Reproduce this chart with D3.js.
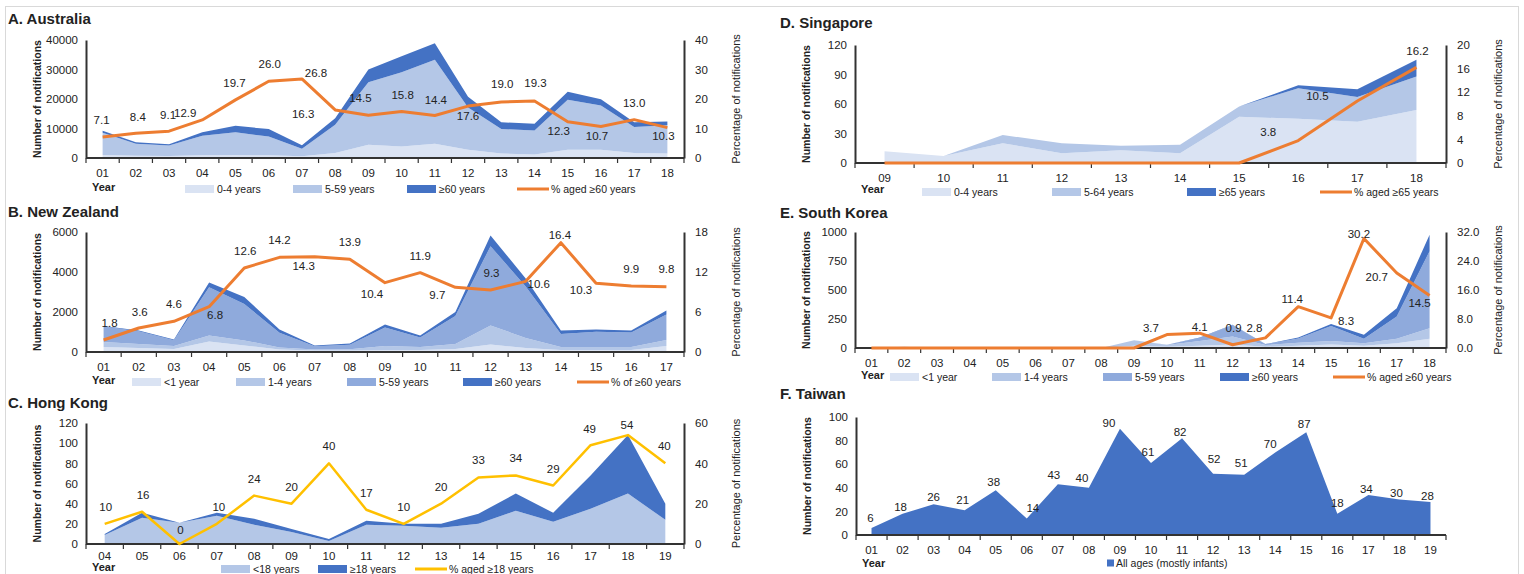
<!DOCTYPE html>
<html>
<head>
<meta charset="utf-8">
<script src="https://cdn.jsdelivr.net/npm/d3@7"></script>
<style>
  body { margin: 0; background: #fff; }
  text { font-family: "Liberation Sans", Arial, sans-serif; fill: #222; }
</style>
</head>
<body>
<div id="chart"></div>
<script>
var svgWidth = 1524;
var svgHeight = 574;

// ---------------- data ----------------
// A. Australia
var auYears = ["01","02","03","04","05","06","07","08","09","10","11","12","13","14","15","16","17","18"];
var auAge0to4 = [1000, 800, 700, 900, 1000, 900, 600, 1700, 4500, 3900, 4800, 2800, 1500, 1200, 2800, 2800, 1700, 1500];
var auAge5to59 = [7550, 4050, 3570, 6680, 7750, 6350, 2550, 9600, 21150, 25150, 28500, 14350, 8300, 8160, 16930, 14970, 8830, 9620];
var auAge60plus = [650, 450, 430, 1120, 2150, 2550, 1150, 2200, 4350, 5450, 5600, 3650, 2300, 2240, 2770, 2130, 1570, 1280];
var auPct60 = [7.1, 8.4, 9.1, 12.9, 19.7, 26.0, 26.8, 16.3, 14.5, 15.8, 14.4, 17.6, 19.0, 19.3, 12.3, 10.7, 13.0, 10.3];

// B. New Zealand
var nzYears = ["01","02","03","04","05","06","07","08","09","10","11","12","13","14","15","16","17"];
var nzUnder1 = [250, 200, 150, 530, 330, 130, 80, 80, 100, 100, 150, 370, 200, 100, 100, 100, 300];
var nzAge1to4 = [250, 200, 150, 300, 250, 100, 50, 60, 200, 150, 250, 960, 500, 150, 150, 150, 300];
var nzAge5to59 = [777, 641, 291, 2404, 1823, 731, 153, 222, 928, 481, 1406, 3958, 2581, 653, 764, 723, 1276];
var nzAge60plus = [23, 39, 29, 236, 347, 159, 47, 58, 142, 99, 194, 542, 389, 177, 116, 107, 204];
var nzPct60 = [1.8, 3.6, 4.6, 6.8, 12.6, 14.2, 14.3, 13.9, 10.4, 11.9, 9.7, 9.3, 10.6, 16.4, 10.3, 9.9, 9.8];

// C. Hong Kong
var hkYears = ["04","05","06","07","08","09","10","11","12","13","14","15","16","17","18","19"];
var hkUnder18 = [9, 26, 21, 28, 19, 12, 3, 19, 18, 16, 20, 33, 22, 35, 50, 24];
var hkAge18plus = [1, 5, 0, 3, 6, 3, 2, 4, 2, 4, 10, 17, 9, 33, 58, 16];
var hkPct18 = [10, 16, 0, 10, 24, 20, 40, 17, 10, 20, 33, 34, 29, 49, 54, 40];

// D. Singapore
var sgYears = ["09","10","11","12","13","14","15","16","17","18"];
var sgAge0to4 = [12, 7, 20, 10, 13, 10, 47, 45, 42, 54];
var sgAge5to64 = [0, 0, 8.5, 10, 4.5, 8.5, 10.5, 31, 25, 34];
var sgAge65plus = [0, 0, 0, 0, 0, 0, 0, 3, 8, 17];
var sgPct65 = [0, 0, 0, 0, 0, 0, 0, 3.8, 10.5, 16.2];

// E. South Korea
var krYears = ["01","02","03","04","05","06","07","08","09","10","11","12","13","14","15","16","17","18"];
var krUnder1 = [0, 5, 0, 0, 0, 0, 0, 0, 20, 10, 20, 30, 10, 20, 30, 20, 40, 80];
var krAge1to4 = [0, 5, 0, 0, 0, 0, 0, 0, 46, 15, 40, 70, 15, 25, 30, 20, 40, 90];
var krAge5to59 = [0, 0, 0, 0, 0, 0, 0, 0, 0, 3, 27, 98, 8, 36, 129, 40, 192, 665];
var krAge60plus = [0, 0, 0, 0, 0, 0, 0, 0, 0, 1, 4, 2, 1, 10, 17, 34, 71, 142];
var krPct60 = [0, 0, 0, 0, 0, 0, 0, 0, 0, 3.7, 4.1, 0.9, 2.8, 11.4, 8.3, 30.2, 20.7, 14.5];

// F. Taiwan
var twYears = ["01","02","03","04","05","06","07","08","09","10","11","12","13","14","15","16","17","18","19"];
var twAllAges = [6, 18, 26, 21, 38, 14, 43, 40, 90, 61, 82, 52, 51, 70, 87, 18, 34, 30, 28];

// data label nudges [dx, dy] from each point (null = no label)
var auLabelNudge = [[-1,-17],[2,-16],[-1,-16],[-17,-7],[-1,-17],[1,-17],[14,-6],[-32,4],[-8,-17],[1,-16],[1,-16],[0,10],[1,-18],[1,-18],[-9,9],[-4,10],[0,-17],[-4,8]];
var nzLabelNudge = [[6,-17],[1,-16],[0,-17],[6,8],[1,-17],[0,-17],[-11,9],[0,-17],[-13,11],[0,-17],[-18,8],[1,-17],[13,3],[-1,-8],[-15,7],[0,-17],[0,-18]];
var hkLabelNudge = [[1,-17],[1,-17],[1,-14],[2,-17],[0,-17],[0,-17],[0,-17],[0,-17],[0,-17],[0,-17],[0,-17],[0,-17],[0,-17],[-1,-16],[-1,-10],[-1,-17]];
var sgLabelNudge = [null,null,null,null,null,null,null,[-30,-9],[-40,-5],[1,-16]];
var krLabelNudge = [null,null,null,null,null,null,null,null,null,[-16,-7],[0,-6],[1,-17],[-11,-10],[-6,-8],[15,3],[-5,-5],[-20,4],[-10,8]];
var twLabelNudge = [[-1,-10],[-2,-7],[0,-7],[-2,-10],[-2,-8],[6,-11],[-4,-9],[-7,-10],[-11,-6],[-3,-11],[-2,-6],[1,-15],[-3,-12],[-5,-8],[-2,-8],[0,-11],[-2,-6],[-3,-7],[-3,-6]];

var cLight = "#dae3f3", cPale = "#b4c7e7", cMid = "#8faadc", cDark = "#4472c4";
var cOrange = "#ed7d31", cYellow = "#ffc000";

var svg = d3.select("#chart")
  .append("svg")
  .attr("width", svgWidth)
  .attr("height", svgHeight);

// light frame round the figure
svg.append("rect")
  .attr("x", 5.5).attr("y", 6.5)
  .attr("width", 1513).attr("height", 620)
  .attr("fill", "none")
  .attr("stroke", "#d9d9d9");

function drawPanel(p) {
  var g = svg.append("g");

  var x = d3.scaleBand().domain(p.years).range([p.left, p.right]).padding(0);
  var y = d3.scaleLinear().domain([0, p.yMax]).range([p.bottom, p.top]);
  var cx = d => x(d) + x.bandwidth() / 2;

  // title
  g.append("text")
    .attr("x", p.titleX).attr("y", p.titleY)
    .attr("font-size", 15).attr("font-weight", "bold")
    .text(p.title);

  // stacked areas
  var rows = p.years.map(function(yr, i) {
    var r = { year: yr };
    p.layers.forEach((l, j) => r["k" + j] = l.values[i]);
    return r;
  });
  var series = d3.stack().keys(p.layers.map((l, j) => "k" + j))(rows);
  var area = d3.area()
    .x(d => cx(d.data.year))
    .y0(d => y(d[0]))
    .y1(d => y(d[1]));
  g.append("g").selectAll("path")
    .data(series)
    .join("path")
    .attr("d", area)
    .attr("fill", (d, j) => p.layers[j].color);

  // labels on the area top (Taiwan)
  if (p.areaLabels) {
    g.append("g").selectAll("text")
      .data(p.layers[0].values)
      .join("text")
      .attr("x", (d, i) => cx(p.years[i]) + p.areaLabels[i][0])
      .attr("y", (d, i) => y(d) + p.areaLabels[i][1])
      .attr("dy", "0.35em")
      .attr("text-anchor", "middle")
      .attr("font-size", 11.5)
      .text(d => d);
  }

  // x axis: labels under category centres, ticks at band edges
  var xAxis = g.append("g")
    .attr("transform", `translate(0, ${p.bottom})`)
    .call(d3.axisBottom(x).tickSize(0).tickPadding(p.tickPad || 11));
  xAxis.select(".domain").remove();
  xAxis.selectAll("text").attr("font-size", 11.5).attr("font-family", null);

  var edges = d3.range(p.years.length + 1).map(i => p.left + i * x.bandwidth());
  g.append("g").selectAll("line")
    .data(edges)
    .join("line")
    .attr("x1", d => d).attr("x2", d => d)
    .attr("y1", p.bottom).attr("y2", p.bottom + 5)
    .attr("stroke", "#333").attr("stroke-width", 1.2);
  g.append("line")
    .attr("x1", p.left).attr("x2", p.right)
    .attr("y1", p.bottom).attr("y2", p.bottom)
    .attr("stroke", "#333").attr("stroke-width", 2);

  // left y axis
  var yAxis = g.append("g")
    .attr("transform", `translate(${p.left}, 0)`)
    .call(d3.axisLeft(y).tickValues(p.yTicks).tickSize(0).tickPadding(8).tickFormat(d3.format("d")));
  yAxis.select(".domain").attr("stroke", "#333").attr("stroke-width", 2);
  yAxis.selectAll("text").attr("font-size", 11.5).attr("font-family", null);

  g.append("text")
    .attr("transform", `translate(${p.left - 49}, ${(p.top + p.bottom) / 2}) rotate(-90)`)
    .attr("text-anchor", "middle")
    .attr("dy", "0.35em")
    .attr("font-size", 10.5).attr("font-weight", "bold")
    .text("Number of notifications");

  // right axis and percentage line
  if (p.pct) {
    var y2 = d3.scaleLinear().domain([0, p.y2Max]).range([p.bottom, p.top]);
    var y2Axis = g.append("g")
      .attr("transform", `translate(${p.right}, 0)`)
      .call(d3.axisRight(y2).tickValues(p.y2Ticks).tickSize(0).tickPadding(11).tickFormat(d3.format(p.y2Format)));
    y2Axis.select(".domain").attr("stroke", "#333").attr("stroke-width", 2);
    y2Axis.selectAll("text").attr("font-size", 11.5).attr("font-family", null);

    g.append("text")
      .attr("transform", `translate(${p.right + 52}, ${(p.top + p.bottom) / 2}) rotate(-90)`)
      .attr("text-anchor", "middle")
      .attr("dy", "0.35em")
      .attr("font-size", 11)
      .text("Percentage of notifications");

    var line = d3.line()
      .x((d, i) => cx(p.years[i]))
      .y(d => y2(d));
    g.append("path")
      .datum(p.pct.values)
      .attr("d", line)
      .attr("fill", "none")
      .attr("stroke", p.pct.color)
      .attr("stroke-width", p.pct.width)
      .attr("stroke-linejoin", "round");

    g.append("g").selectAll("text")
      .data(p.pct.values.map((v, i) => ({ v: v, i: i })).filter(d => p.pct.nudge[d.i]))
      .join("text")
      .attr("x", d => cx(p.years[d.i]) + p.pct.nudge[d.i][0])
      .attr("y", d => y2(d.v) + p.pct.nudge[d.i][1])
      .attr("dy", "0.35em")
      .attr("text-anchor", "middle")
      .attr("font-size", 11.5)
      .text(d => p.pct.fmt(d.v));
  }

  // "Year"
  g.append("text")
    .attr("x", p.left + 6).attr("y", p.yearY)
    .attr("dy", "0.35em")
    .attr("font-size", 11).attr("font-weight", "bold")
    .text("Year");

  // legend
  var leg = g.append("g");
  p.legend.forEach(function(it, k) {
    var lx = p.legendX[k];
    var tx;
    if (it.type === "line") {
      leg.append("line")
        .attr("x1", lx).attr("x2", lx + 32)
        .attr("y1", p.legendY).attr("y2", p.legendY)
        .attr("stroke", it.color).attr("stroke-width", 3);
      tx = lx + 34;
    } else if (it.type === "square") {
      leg.append("rect")
        .attr("x", lx).attr("y", p.legendY - 3.5)
        .attr("width", 7).attr("height", 7)
        .attr("fill", it.color);
      tx = lx + 9;
    } else {
      leg.append("rect")
        .attr("x", lx).attr("y", p.legendY - 4)
        .attr("width", 29).attr("height", 8)
        .attr("fill", it.color);
      tx = lx + 32;
    }
    leg.append("text")
      .attr("x", tx).attr("y", p.legendY)
      .attr("dy", "0.35em")
      .attr("font-size", 10.5)
      .text(it.name);
  });
}

var f1 = d3.format(".1f");
var f0 = d3.format("d");

drawPanel({
  title: "A. Australia", titleX: 8, titleY: 24,
  left: 86, right: 684, top: 40, bottom: 158,
  years: auYears,
  layers: [
    { values: auAge0to4, color: cLight },
    { values: auAge5to59, color: cPale },
    { values: auAge60plus, color: cDark }
  ],
  yMax: 40000, yTicks: [0, 10000, 20000, 30000, 40000],
  pct: { values: auPct60, color: cOrange, width: 3, nudge: auLabelNudge, fmt: f1 },
  y2Max: 40, y2Ticks: [0, 10, 20, 30, 40], y2Format: "d",
  yearY: 187, legendY: 189,
  legendX: [185, 293, 407, 517],
  legend: [
    { name: "0-4 years", color: cLight },
    { name: "5-59 years", color: cPale },
    { name: "≥60 years", color: cDark },
    { name: "% aged ≥60 years", color: cOrange, type: "line" }
  ]
});

drawPanel({
  title: "B. New Zealand", titleX: 8, titleY: 217,
  left: 86, right: 684, top: 232, bottom: 352,
  years: nzYears,
  layers: [
    { values: nzUnder1, color: cLight },
    { values: nzAge1to4, color: cPale },
    { values: nzAge5to59, color: cMid },
    { values: nzAge60plus, color: cDark }
  ],
  yMax: 6000, yTicks: [0, 2000, 4000, 6000],
  pct: { values: nzPct60, color: cOrange, width: 3, nudge: nzLabelNudge, fmt: f1 },
  y2Max: 18, y2Ticks: [0, 6, 12, 18], y2Format: "d",
  yearY: 380, legendY: 382,
  legendX: [132, 236, 347, 463, 577],
  legend: [
    { name: "<1 year", color: cLight },
    { name: "1-4 years", color: cPale },
    { name: "5-59 years", color: cMid },
    { name: "≥60 years", color: cDark },
    { name: "% of ≥60 years", color: cOrange, type: "line" }
  ]
});

drawPanel({
  title: "C. Hong Kong", titleX: 8, titleY: 408,
  left: 86, right: 684, top: 423, bottom: 544,
  years: hkYears,
  layers: [
    { values: hkUnder18, color: cPale },
    { values: hkAge18plus, color: cDark }
  ],
  yMax: 120, yTicks: [0, 20, 40, 60, 80, 100, 120],
  pct: { values: hkPct18, color: cYellow, width: 2.5, nudge: hkLabelNudge, fmt: f0 },
  y2Max: 60, y2Ticks: [0, 20, 40, 60], y2Format: "d",
  tickPad: 8,
  yearY: 567, legendY: 569,
  legendX: [221, 318, 415],
  legend: [
    { name: "<18 years", color: cPale },
    { name: "≥18 years", color: cDark },
    { name: "% aged ≥18 years", color: cYellow, type: "line" }
  ]
});

drawPanel({
  title: "D. Singapore", titleX: 780, titleY: 28,
  left: 855, right: 1446, top: 45, bottom: 163,
  years: sgYears,
  layers: [
    { values: sgAge0to4, color: cLight },
    { values: sgAge5to64, color: cPale },
    { values: sgAge65plus, color: cDark }
  ],
  yMax: 120, yTicks: [0, 30, 60, 90, 120],
  pct: { values: sgPct65, color: cOrange, width: 3, nudge: sgLabelNudge, fmt: f1 },
  y2Max: 20, y2Ticks: [0, 4, 8, 12, 16, 20], y2Format: "d",
  yearY: 189, legendY: 192,
  legendX: [922, 1052, 1187, 1320],
  legend: [
    { name: "0-4 years", color: cLight },
    { name: "5-64 years", color: cPale },
    { name: "≥65 years", color: cDark },
    { name: "% aged ≥65 years", color: cOrange, type: "line" }
  ]
});

drawPanel({
  title: "E. South Korea", titleX: 780, titleY: 218,
  left: 855, right: 1446, top: 232, bottom: 348,
  years: krYears,
  layers: [
    { values: krUnder1, color: cLight },
    { values: krAge1to4, color: cPale },
    { values: krAge5to59, color: cMid },
    { values: krAge60plus, color: cDark }
  ],
  yMax: 1000, yTicks: [0, 250, 500, 750, 1000],
  pct: { values: krPct60, color: cOrange, width: 3, nudge: krLabelNudge, fmt: f1 },
  y2Max: 32, y2Ticks: [0, 8, 16, 24, 32], y2Format: ".1f",
  yearY: 375, legendY: 377,
  legendX: [890, 992, 1103, 1220, 1333],
  legend: [
    { name: "<1 year", color: cLight },
    { name: "1-4 years", color: cPale },
    { name: "5-59 years", color: cMid },
    { name: "≥60 years", color: cDark },
    { name: "% aged ≥60 years", color: cOrange, type: "line" }
  ]
});

drawPanel({
  title: "F. Taiwan", titleX: 780, titleY: 399,
  left: 856, right: 1446, top: 417, bottom: 535,
  years: twYears,
  layers: [
    { values: twAllAges, color: cDark }
  ],
  areaLabels: twLabelNudge,
  yMax: 100, yTicks: [0, 20, 40, 60, 80, 100],
  yearY: 563, legendY: 563,
  legendX: [1107],
  legend: [
    { name: "All ages (mostly infants)", color: cDark, type: "square" }
  ]
});
</script>
</body>
</html>
